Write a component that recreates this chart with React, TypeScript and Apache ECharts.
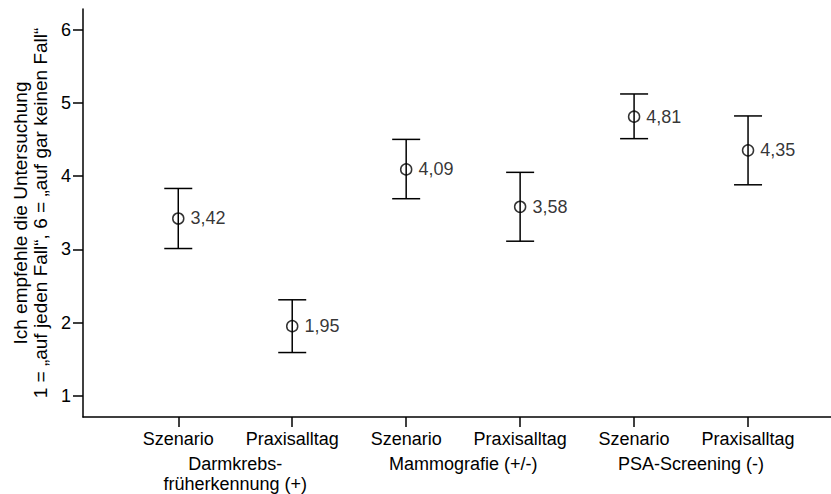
import React, { useEffect, useRef } from "react";
import * as echarts from "echarts";

const categories = ["Szenario", "Praxisalltag", "Szenario", "Praxisalltag", "Szenario", "Praxisalltag"];
const groups = ["Darmkrebs-\nfrüherkennung (+)", "Mammografie (+/-)", "PSA-Screening (-)"];
const groupPositions = [1.5, 3.5, 5.5];
const categoryPositions = [1, 2, 3, 4, 5, 6];
const means = [3.42, 1.95, 4.09, 3.58, 4.81, 4.35];
const lower = [3.01, 1.59, 3.69, 3.11, 4.51, 3.88];
const upper = [3.83, 2.31, 4.5, 4.05, 5.12, 4.82];
const yTicks = [1, 2, 3, 4, 5, 6];

const FONT = "Liberation Sans, Arial, sans-serif";
const FS = 18;

export default function App() {
  const ref = useRef<HTMLDivElement>(null);
  useEffect(() => {
    if (!ref.current) return;
    const chart = echarts.init(ref.current, null, { renderer: "svg" });
    const xMin = 0.164;
    const xMax = 6.728;
    chart.setOption({
      animation: false,
      backgroundColor: "#fff",
      textStyle: { fontFamily: FONT, color: "#000" },
      grid: { left: 83, right: 0, top: 9, bottom: 77, containLabel: false },
      xAxis: [
        {
          type: "value",
          min: xMin,
          max: xMax,
          position: "bottom",
          splitLine: { show: false },
          axisLine: { show: true, lineStyle: { color: "#000", width: 1.5 } },
          axisTick: { show: true, customValues: categoryPositions, length: 10, lineStyle: { color: "#000", width: 1.5 } },
          axisLabel: {
            customValues: categoryPositions,
            formatter: (v: number) => categories[Math.round(v) - 1] ?? "",
            fontFamily: FONT,
            fontSize: FS,
            color: "#000",
            margin: 13,
          },
        },
        {
          type: "value",
          min: xMin,
          max: xMax,
          position: "bottom",
          splitLine: { show: false },
          axisLine: { show: false },
          axisTick: { show: false },
          axisLabel: {
            customValues: groupPositions,
            formatter: (v: number) => {
              const i = groupPositions.findIndex((g) => Math.abs(g - v) < 1e-6);
              return i >= 0 ? groups[i] : "";
            },
            fontFamily: FONT,
            fontSize: FS,
            lineHeight: 20,
            color: "#000",
            margin: 37,
            verticalAlign: "top",
          },
        },
      ],
      yAxis: {
        type: "value",
        min: 0.71,
        max: 6.28,
        splitLine: { show: false },
        axisLine: { show: true, lineStyle: { color: "#000", width: 1.5 } },
        axisTick: { show: true, customValues: yTicks, length: 10, lineStyle: { color: "#000", width: 1.5 } },
        axisLabel: {
          customValues: yTicks,
          fontFamily: FONT,
          fontSize: FS,
          color: "#000",
          margin: 12,
        },
        name: "Ich empfehle die Untersuchung\n1 = „auf jeden Fall“, 6 = „auf gar keinen Fall“",
        nameLocation: "middle",
        nameGap: 31,
        nameTextStyle: { fontFamily: FONT, fontSize: 19, lineHeight: 20, color: "#000" },
      },
      series: [
        {
          type: "custom",
          xAxisIndex: 0,
          data: categoryPositions.map((x, i) => [x, lower[i], upper[i]]),
          renderItem: (params: any, api: any) => {
            const x = api.value(0);
            const pLo = api.coord([x, api.value(1)]);
            const pHi = api.coord([x, api.value(2)]);
            const hw = 14;
            const st = { stroke: "#000", lineWidth: 1.5 };
            return {
              type: "group",
              children: [
                { type: "line", shape: { x1: pLo[0], y1: pLo[1], x2: pHi[0], y2: pHi[1] }, style: st },
                { type: "line", shape: { x1: pLo[0] - hw, y1: pLo[1], x2: pLo[0] + hw, y2: pLo[1] }, style: st },
                { type: "line", shape: { x1: pHi[0] - hw, y1: pHi[1], x2: pHi[0] + hw, y2: pHi[1] }, style: st },
              ],
            };
          },
          z: 2,
        },
        {
          type: "scatter",
          xAxisIndex: 0,
          symbol: "circle",
          symbolSize: 11,
          itemStyle: { color: "rgba(0,0,0,0)", borderColor: "#000", borderWidth: 1.5 },
          data: categoryPositions.map((x, i) => [x, means[i]]),
          label: {
            show: true,
            position: "right",
            distance: 6,
            fontFamily: FONT,
            fontSize: FS,
            color: "#000",
            textBorderWidth: 0,
            formatter: (p: any) => p.value[1].toFixed(2).replace(".", ","),
          },
          z: 3,
        },
      ],
    });
    return () => chart.dispose();
  }, []);
  return (
    <div
      ref={ref}
      style={{ position: "fixed", left: 0, top: 0, width: 831, height: 494 }}
    />
  );
}
